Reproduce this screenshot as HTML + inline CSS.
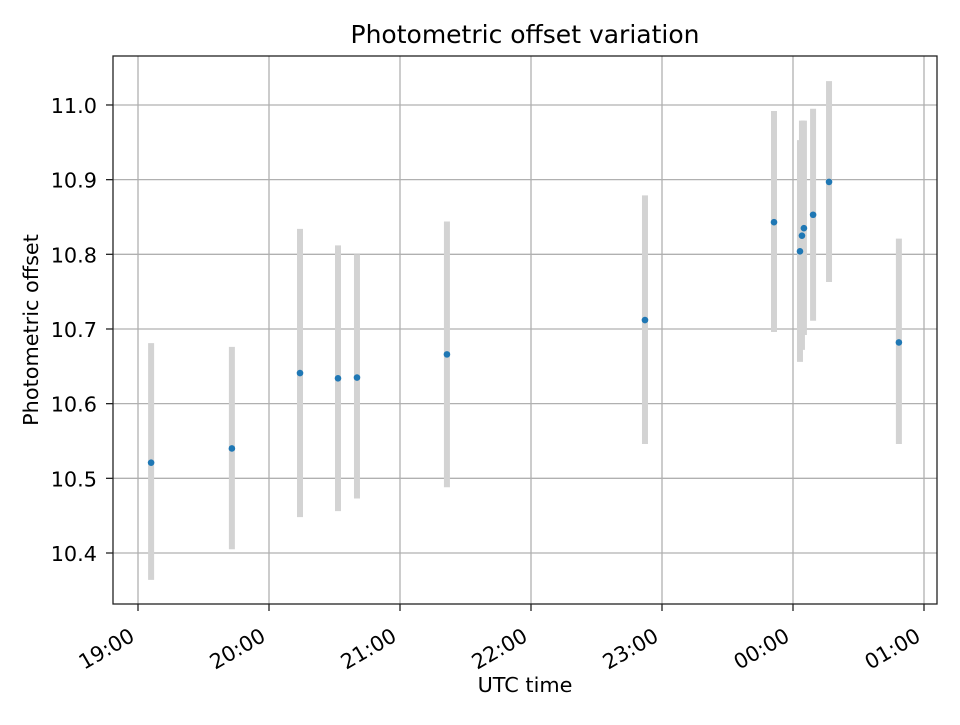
<!DOCTYPE html>
<html><head><meta charset="utf-8"><style>
body{margin:0;background:#fff}
svg text{font-family:"DejaVu Sans","Liberation Sans",sans-serif;fill:#000}
</style></head><body>
<svg id="chart" width="960" height="720" viewBox="0 0 960 720" xmlns="http://www.w3.org/2000/svg">
<rect width="960" height="720" fill="#fff"/>
<g id="grid"></g><g id="bars"></g><g id="pts"></g><g id="ticks"></g>
<rect x="113" y="56" width="824" height="548" fill="none" stroke="#222" stroke-width="1.3"/>
<text x="525" y="43" font-size="25" text-anchor="middle">Photometric offset variation</text>
<text x="525" y="692" font-size="20.8" text-anchor="middle">UTC time</text>
<text transform="translate(38,330) rotate(-90)" font-size="20.8" text-anchor="middle">Photometric offset</text>
</svg>
<script>
// minutes after 19:00
const times=[6,43,74.2,91.6,100.3,141.5,232.2,291.3,303.2,304.1,305,309.2,316.5,348.5];
const offsets=[10.521,10.540,10.641,10.634,10.635,10.666,10.712,10.843,10.804,10.825,10.835,10.853,10.897,10.682];
const errLow=[10.364,10.405,10.448,10.456,10.473,10.488,10.546,10.696,10.656,10.672,10.692,10.711,10.763,10.546];
const errHigh=[10.681,10.676,10.834,10.812,10.800,10.844,10.879,10.992,10.953,10.979,10.979,10.995,11.032,10.821];
const xTickLabels=["19:00","20:00","21:00","22:00","23:00","00:00","01:00"];
const yTickLabels=["10.4","10.5","10.6","10.7","10.8","10.9","11.0"];
const NS="http://www.w3.org/2000/svg";
const xs=m=>138+m*131/60;
const ys=v=>553-(v-10.4)*746.7;
function mk(tag,attrs,parent){const e=document.createElementNS(NS,tag);for(const k in attrs)e.setAttribute(k,attrs[k]);document.getElementById(parent).appendChild(e);return e;}
xTickLabels.forEach((t,i)=>{
  const x=xs(i*60);
  const g=mk('line',{x1:x,x2:x,y1:56,y2:604,stroke:'#b0b0b0','stroke-width':1.3},'grid');
  
  
  const tk=mk('line',{x1:x,x2:x,y1:604,y2:611,stroke:'#222','stroke-width':1.3},'ticks');
  
  
  const tx=mk('text',{x:0,y:0,'font-size':20.8,'text-anchor':'end',transform:`translate(${x-2},${640}) rotate(-30)`},'ticks');
  tx.textContent=t;
  
  
});
yTickLabels.forEach(t=>{
  const y=ys(parseFloat(t));
  const g=mk('line',{x1:113,x2:937,y1:y,y2:y,stroke:'#b0b0b0','stroke-width':1.3},'grid');
  
  
  const tk=mk('line',{x1:106,x2:113,y1:y,y2:y,stroke:'#222','stroke-width':1.3},'ticks');
  
  
  const tx=mk('text',{x:97,y:y+8,'font-size':20.8,'text-anchor':'end'},'ticks');
  tx.textContent=t;
  
  
});
times.forEach((m,i)=>{
  const x=xs(m);
  const b=mk('line',{x1:x,x2:x,y1:ys(errHigh[i]),y2:ys(errLow[i]),stroke:'#d3d3d3','stroke-width':6},'bars');
  
  
  const p=mk('circle',{cx:x,cy:ys(offsets[i]),r:3.3,fill:'#1f77b4'},'pts');
  
  
});
</script>
</body></html>
